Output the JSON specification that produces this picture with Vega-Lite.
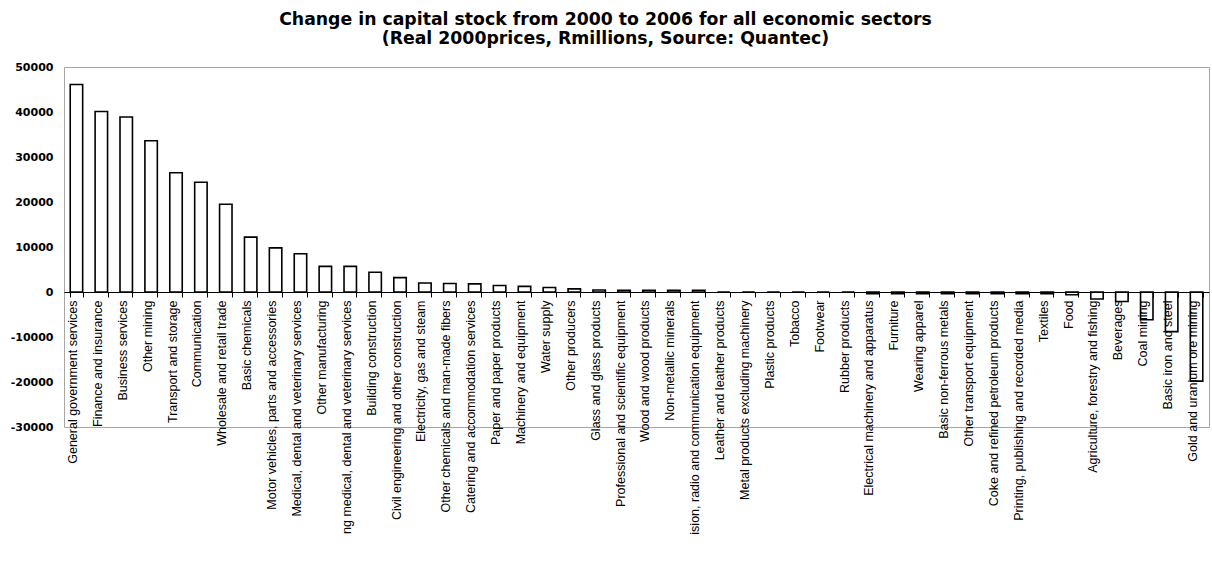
{
  "$schema": "https://vega.github.io/schema/vega-lite/v6.json",
  "width": 1145,
  "height": 360,
  "autosize": {"type": "none"},
  "padding": {"left": 64, "top": 67, "right": 3, "bottom": 134},
  "background": "white",
  "title": {
    "text": ["Change in capital stock from 2000 to 2006 for all economic sectors", "(Real 2000prices, Rmillions, Source: Quantec)"],
    "font": "DejaVu Sans",
    "fontSize": 17.3,
    "fontWeight": "bold",
    "color": "black",
    "anchor": "middle",
    "dx": -31,
    "offset": 14,
    "lineHeight": 19
  },
  "config": {"view": {"stroke": "#a6a6a6", "strokeWidth": 1}},
  "data": {
    "values": [
      {"sector": "General government services", "change": 46100},
      {"sector": "Finance and insurance", "change": 40100},
      {"sector": "Business services", "change": 38900},
      {"sector": "Other mining", "change": 33600},
      {"sector": "Transport and storage", "change": 26500},
      {"sector": "Communication", "change": 24400},
      {"sector": "Wholesale and retail trade", "change": 19500},
      {"sector": "Basic chemicals", "change": 12200},
      {"sector": "Motor vehicles, parts and accessories", "change": 9800},
      {"sector": "Medical, dental and veterinary services", "change": 8500},
      {"sector": "Other manufacturing", "change": 5700},
      {"sector": "ng medical, dental and veterinary services", "change": 5700},
      {"sector": "Building construction", "change": 4400},
      {"sector": "Civil engineering and other construction", "change": 3200},
      {"sector": "Electricity, gas and steam", "change": 2000},
      {"sector": "Other chemicals and man-made fibers", "change": 1900},
      {"sector": "Catering and accommodation services", "change": 1800},
      {"sector": "Paper and paper products", "change": 1450},
      {"sector": "Machinery and equipment", "change": 1250},
      {"sector": "Water supply", "change": 1000},
      {"sector": "Other producers", "change": 700},
      {"sector": "Glass and glass products", "change": 450},
      {"sector": "Professional and scientific equipment", "change": 400},
      {"sector": "Wood and wood products", "change": 400},
      {"sector": "Non-metallic minerals", "change": 400},
      {"sector": "ision, radio and communication equipment", "change": 400},
      {"sector": "Leather and leather products", "change": 0},
      {"sector": "Metal products excluding machinery", "change": 0},
      {"sector": "Plastic products", "change": 0},
      {"sector": "Tobacco", "change": 0},
      {"sector": "Footwear", "change": 0},
      {"sector": "Rubber products", "change": 0},
      {"sector": "Electrical machinery and apparatus", "change": -400},
      {"sector": "Furniture", "change": -400},
      {"sector": "Wearing apparel", "change": -400},
      {"sector": "Basic non-ferrous metals", "change": -400},
      {"sector": "Other transport equipment", "change": -400},
      {"sector": "Coke and refined petroleum products", "change": -400},
      {"sector": "Printing, publishing and recorded media", "change": -400},
      {"sector": "Textiles", "change": -400},
      {"sector": "Food", "change": -600},
      {"sector": "Agriculture, forestry and fishing", "change": -1550},
      {"sector": "Beverages", "change": -2100},
      {"sector": "Coal mining", "change": -6150},
      {"sector": "Basic iron and steel", "change": -8800},
      {"sector": "Gold and uranium ore mining", "change": -19800}
    ]
  },
  "mark": {"type": "bar", "fill": "white", "stroke": "black", "strokeWidth": 1.6},
  "encoding": {
    "x": {
      "field": "sector",
      "type": "nominal",
      "sort": null,
      "scale": {"paddingInner": 0.5, "paddingOuter": 0.25},
      "axis": {
        "title": null,
        "orient": "bottom",
        "offset": -135,
        "labelAngle": -90,
        "labelAlign": "right",
        "labelBaseline": "alphabetic",
        "labelFont": "Liberation Sans",
        "labelFontSize": 12.5,
        "labelColor": "black",
        "labelPadding": 3,
        "labelLimit": 0,
        "labelOverlap": false,
        "labelBound": false,
        "tickBand": "extent",
        "tickSize": 5,
        "tickColor": "black",
        "tickWidth": 1,
        "domainColor": "black",
        "domainWidth": 1,
        "zindex": 1
      }
    },
    "y": {
      "field": "change",
      "type": "quantitative",
      "scale": {"domain": [-30000, 50000], "nice": false},
      "axis": {
        "title": null,
        "values": [-30000, -20000, -10000, 0, 10000, 20000, 30000, 40000, 50000],
        "labelExpr": "'' + datum.value",
        "labelFont": "DejaVu Sans",
        "labelFontWeight": "bold",
        "labelFontSize": 11,
        "labelColor": "black",
        "ticks": false,
        "labelPadding": 11,
        "domain": false,
        "grid": false
      }
    }
  }
}
